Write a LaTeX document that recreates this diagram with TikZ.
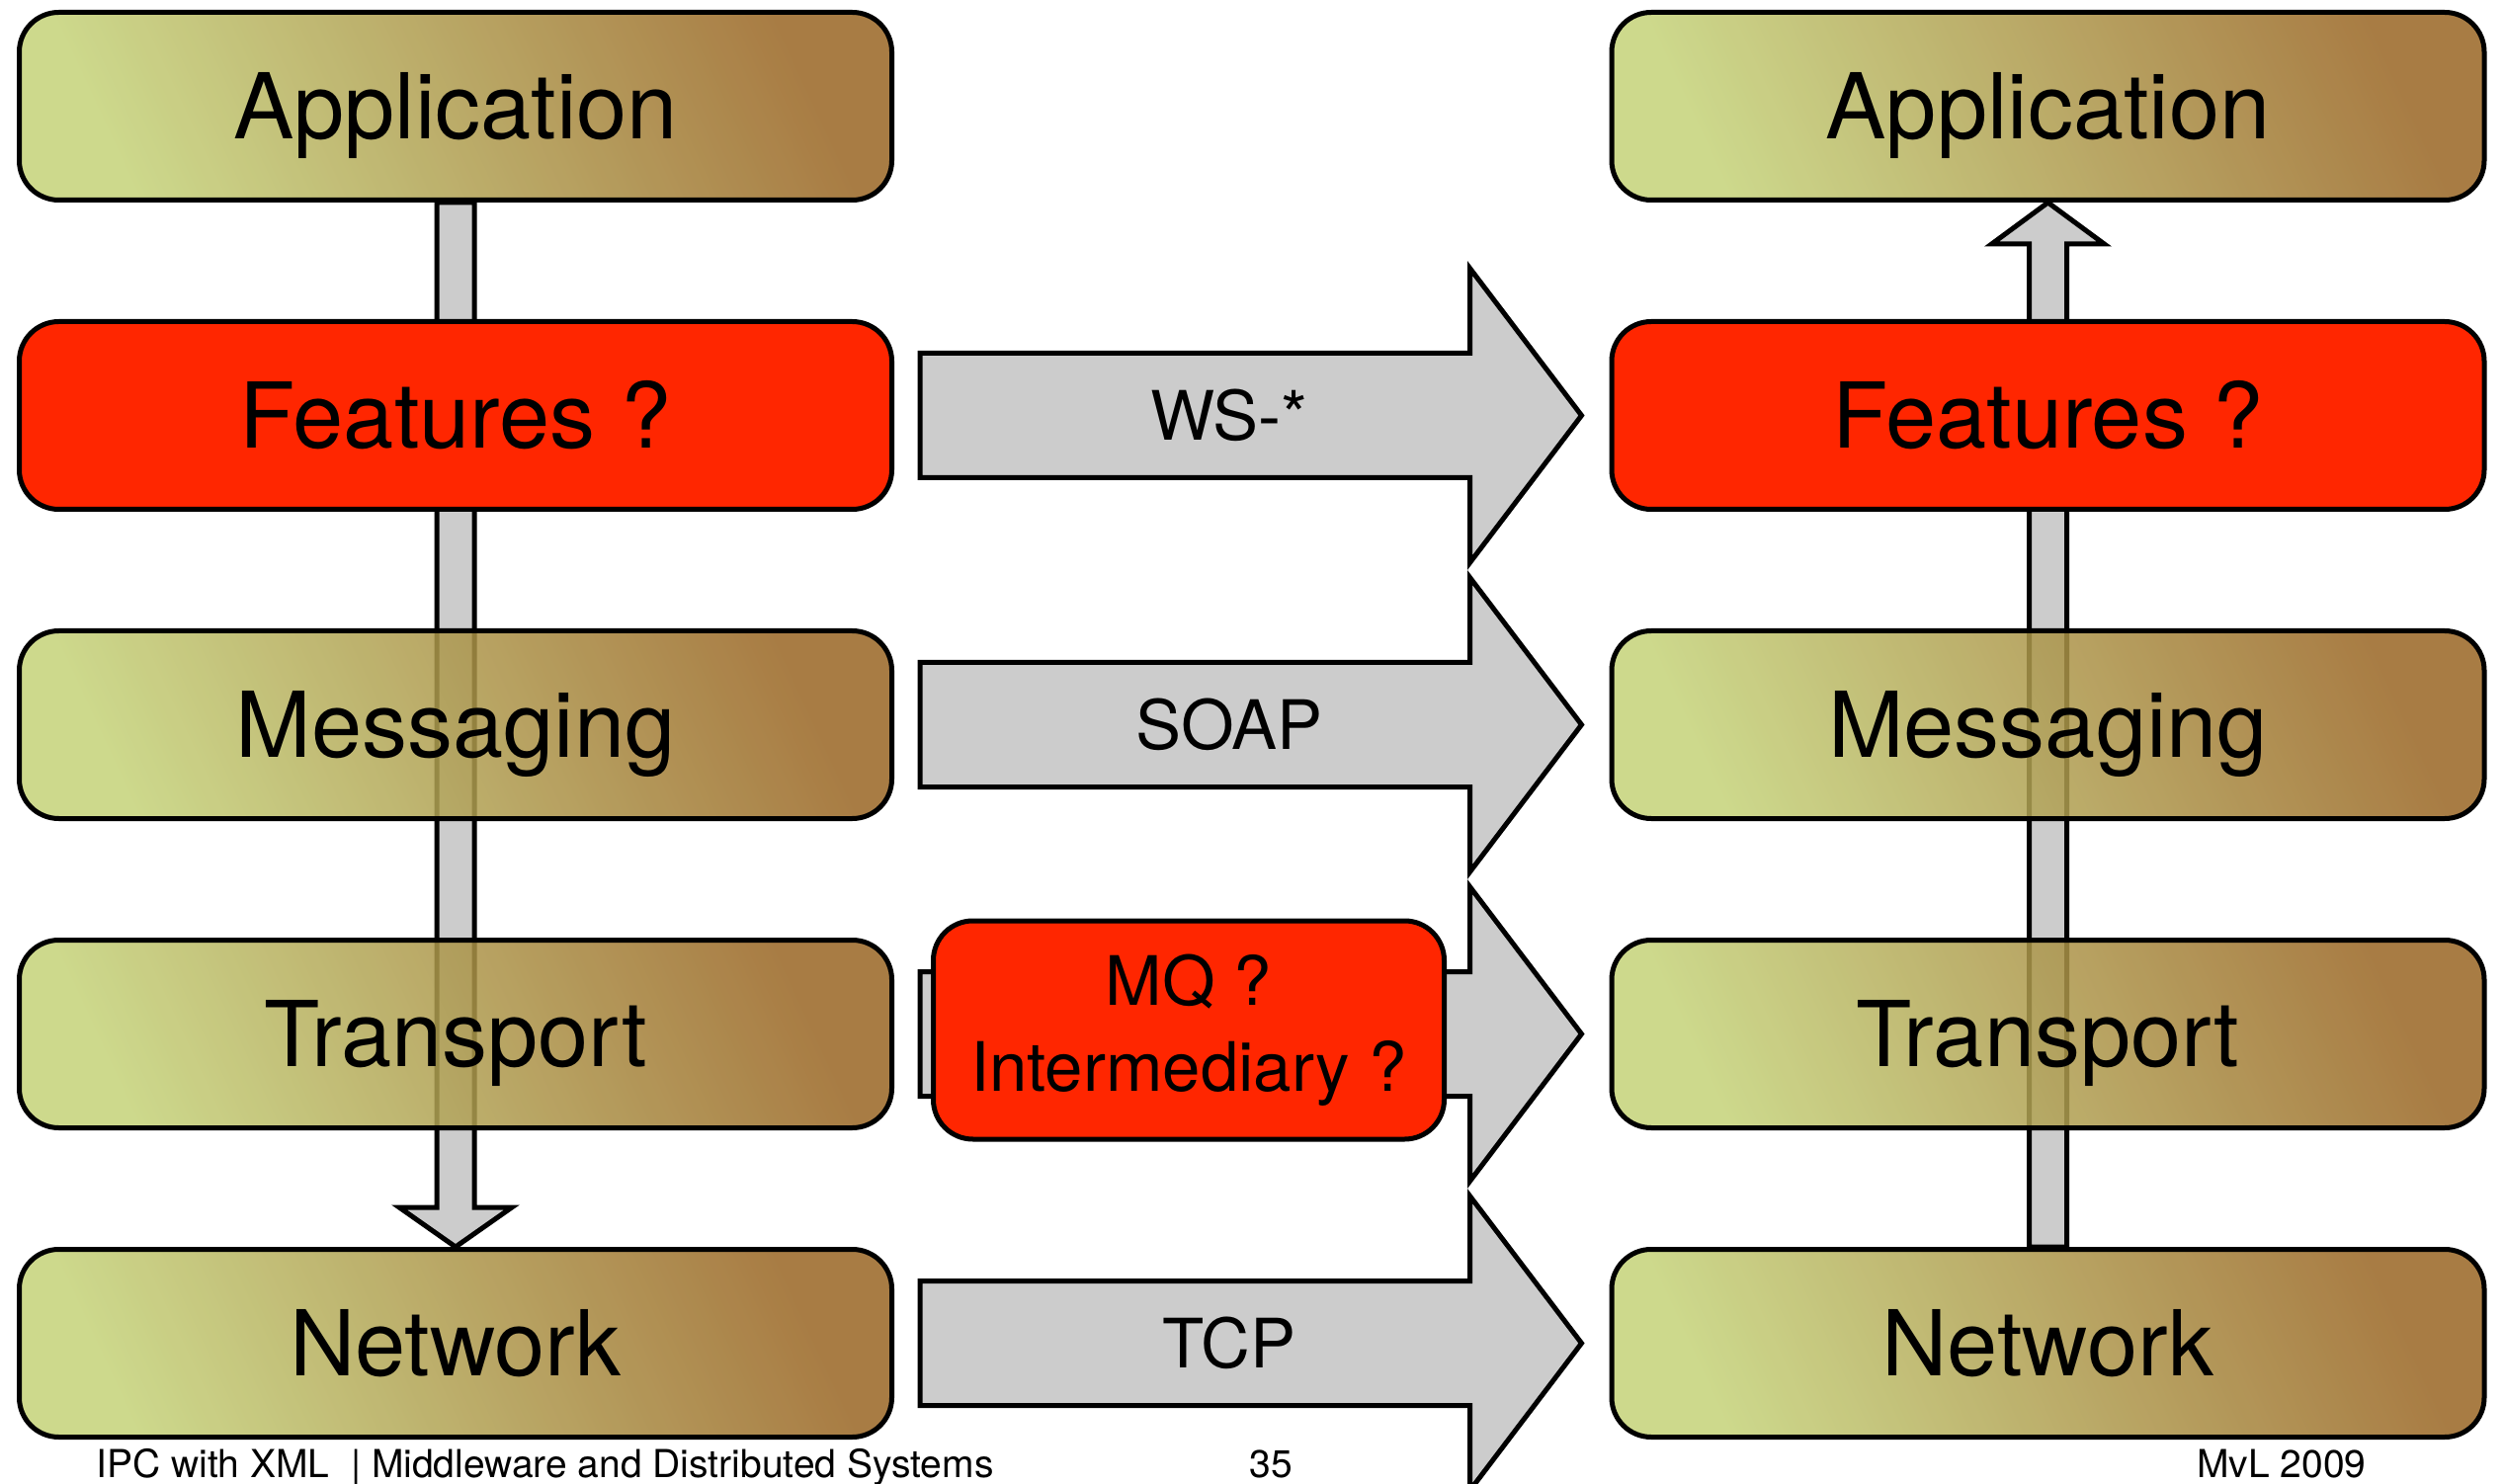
\documentclass[tikz,border=0pt]{standalone}
\usepackage{fontspec}
\setmainfont{TeX Gyre Heros}
\usetikzlibrary{positioning, calc, backgrounds}

\definecolor{layerlight}{RGB}{196,210,120}
\definecolor{layerdark}{RGB}{153,101,35}
\definecolor{featurered}{RGB}{255,38,0}
\definecolor{arrowgray}{RGB}{204,204,204}

\tikzset{
  box/.style={draw, line width=2.5pt, rounded corners=20pt, minimum width=441.5pt, minimum height=95pt,
    font=\fontsize{46}{55}\selectfont, text height=33pt, text depth=0pt},
  layer/.style={box, left color=layerlight, right color=layerdark, shading angle=115,
    fill opacity=0.85, text opacity=1},
  feature/.style={box, fill=featurered},
  bigarrow/.style={draw, line width=2.5pt, fill=arrowgray, line join=miter},
  arrowlabel/.style={font=\fontsize{34.5}{43.5}\selectfont},
  footer/.style={font=\fontsize{19.5}{23}\selectfont, inner sep=0pt}
}

\begin{document}
\begin{tikzpicture}[x=0.5pt, y=-0.5pt, node distance=59pt]
  \useasboundingbox (0,0) rectangle (2534,1502);

  % sending stack
  \node[layer] (lapp) at (461,107.5) {Application};
  \node[feature, below=of lapp] (lfeat) {Features ?};
  \node[layer, below=of lfeat] (lmsg) {Messaging};
  \node[layer, below=of lmsg] (ltrans) {Transport};
  \node[layer, below=of ltrans] (lnet) {Network};

  % receiving stack
  \node[layer] (rapp) at (2072.5,107.5) {Application};
  \node[feature, below=of rapp] (rfeat) {Features ?};
  \node[layer, below=of rfeat] (rmsg) {Messaging};
  \node[layer, below=of rmsg] (rtrans) {Transport};
  \node[layer, below=of rtrans] (rnet) {Network};

  \node[feature, minimum width=258.5pt, minimum height=110.5pt, align=center, arrowlabel,
    text height=, text depth=, right=18.5pt of ltrans, yshift=2pt] (mq) {MQ ?\\Intermediary ?};

  \begin{scope}[on background layer]
    % down the left stack, up the right one
    \draw[bigarrow] ($(lapp.south)+(-19,0)$) -- ($(lnet.north)+(-19,-40)$) -- ++(-38,0) -- (lnet.north)
      -- ($(lnet.north)+(57,-40)$) -- ++(-38,0) -- ($(lapp.south)+(19,0)$) -- cycle;
    \draw[bigarrow] ($(rnet.north)+(-19,0)$) -- ($(rapp.south)+(-19,42)$) -- ++(-38,0) -- (rapp.south)
      -- ($(rapp.south)+(57,42)$) -- ++(-38,0) -- ($(rnet.north)+(19,0)$) -- cycle;

    % peer to peer
    \foreach \src/\dst in {lfeat/rfeat, lmsg/rmsg, ltrans/rtrans, lnet/rnet}
      \draw[bigarrow] ($(\src.east)+(26,-63)$) -- ($(\dst.west)+(-141,-63)$) -- ++(0,-86)
        -- ($(\dst.west)+(-28,0)$) -- ($(\dst.west)+(-141,149)$) -- ++(0,-86)
        -- ($(\src.east)+(26,63)$) -- cycle;
  \end{scope}

  \foreach \src/\lbl in {lfeat/WS-*, lmsg/SOAP, lnet/TCP}
    \node[arrowlabel] (\src lbl) at ($(\src.east)+(339,0)$) {\lbl};

  % footer
  \node[footer, anchor=base west] (course) at (97,1495) {IPC with XML ~| Middleware and Distributed Systems};
  \node[footer, anchor=base] (page) at (1286,1495) {35};
  \node[footer, anchor=base east] (author) at (2395,1495) {MvL 2009};
\end{tikzpicture}
\end{document}
